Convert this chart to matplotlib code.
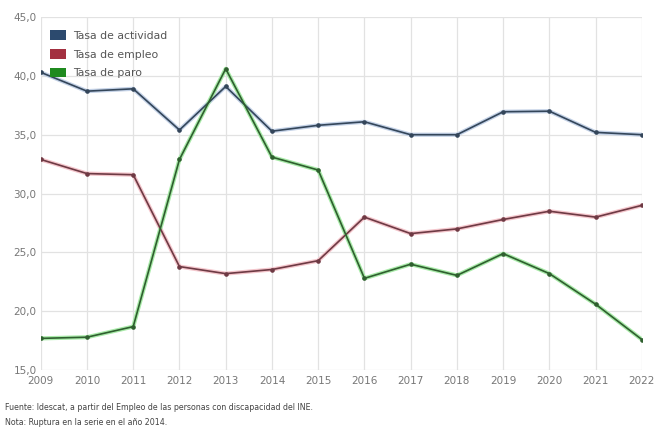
import matplotlib.pyplot as plt
from matplotlib.patches import Patch
from matplotlib.ticker import FuncFormatter, MultipleLocator

plt.rcParams['font.family'] = ['DejaVu Sans']

anios = list(range(2009, 2023))
actividad = [40.3, 38.7, 38.9, 35.4, 39.1, 35.3, 35.8, 36.1, 35.0, 35.0, 36.95, 37.0, 35.2, 35.0]
empleo = [32.9, 31.7, 31.6, 23.8, 23.2, 23.55, 24.3, 28.0, 26.6, 27.0, 27.8, 28.5, 28.0, 29.0]
paro = [17.7, 17.8, 18.7, 32.9, 40.6, 33.1, 32.0, 22.8, 24.0, 23.05, 24.9, 23.2, 20.6, 17.6]

series = [
    ('Tasa de actividad', actividad, '#2c4a6e', '#c3d1e6', '#34465a'),
    ('Tasa de empleo', empleo, '#a33040', '#f4c6cc', '#6e3a44'),
    ('Tasa de paro', paro, '#1f8a1f', '#a8eaa8', '#2f5f2f'),
]

fig = plt.figure(figsize=(6.57, 4.36), dpi=100)
ax = fig.add_axes([0.062, 0.151, 0.915, 0.81])

for nombre, valores, col, halo, linea in series:
    ax.plot(anios, valores, color=halo, lw=3.0, solid_capstyle='round', zorder=2)
    ax.plot(anios, valores, color=linea, lw=1.2, marker='o', ms=2.3, zorder=3)

ax.set_xlim(2009, 2022)
ax.set_ylim(15, 45)
ax.set_xticks(anios)
ax.yaxis.set_major_locator(MultipleLocator(5))
ax.yaxis.set_major_formatter(FuncFormatter(lambda v, p: f'{v:.1f}'.replace('.', ',')))
ax.grid(True, color='#e2e2e2', lw=0.9)
ax.set_axisbelow(True)
for s in ax.spines.values():
    s.set_visible(False)
ax.tick_params(length=0, labelsize=7.5, labelcolor='#777777')
ax.tick_params(axis='x', pad=4)
ax.tick_params(axis='y', pad=3)

handles = [Patch(facecolor=c, label=n) for n, _, c, _, _ in series]
ax.legend(handles=handles, loc='upper left', bbox_to_anchor=(0.0, 0.99), frameon=False,
          fontsize=7.8, labelcolor='#555555', handlelength=1.4, handleheight=1.0,
          handletextpad=0.7, labelspacing=0.75, borderaxespad=0.5)

fig.text(0.008, 0.066, 'Fuente: Idescat, a partir del Empleo de las personas con discapacidad del INE.',
         fontsize=5.7, color='#444444', va='center')
fig.text(0.008, 0.030, 'Nota: Ruptura en la serie en el año 2014.',
         fontsize=5.7, color='#444444', va='center')

fig.savefig('out.png', dpi=100)
